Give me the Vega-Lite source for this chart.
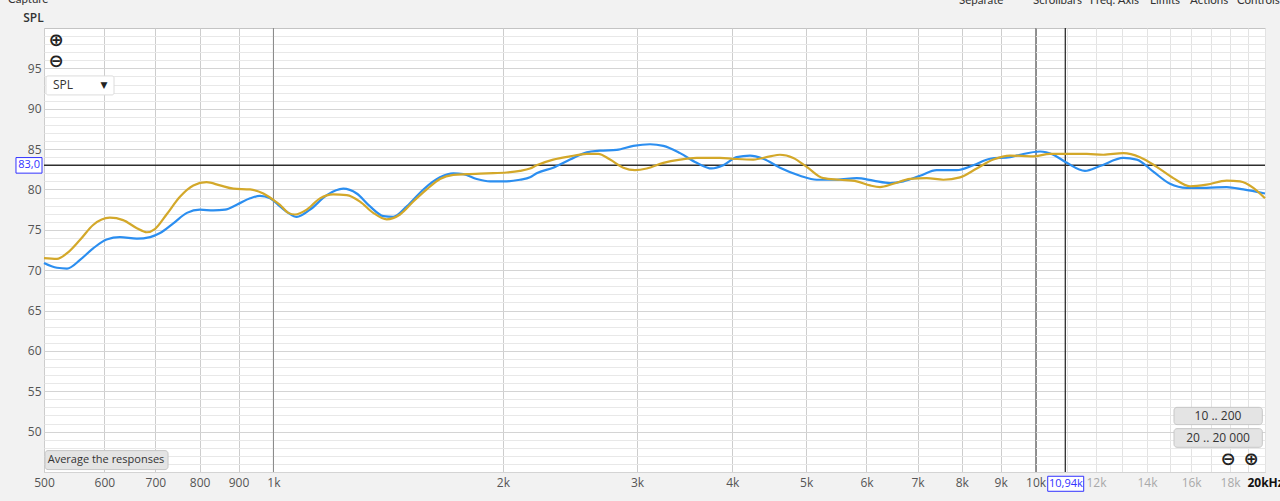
{
  "$schema": "https://vega.github.io/schema/vega-lite/v6.json",
  "width": 1221,
  "height": 444,
  "autosize": {"type": "none"},
  "padding": {"left": 44, "top": 28, "right": 15, "bottom": 29},
  "background": "#f2f2f2",
  "view": {"fill": "#ffffff", "stroke": "#c4c4c4"},
  "config": {"font": "Open Sans", "text": {"font": "Open Sans"}},
  "data": {"values": [{}]},
  "datasets": {
    "curves": [
      {"f": 500, "spl": 70.9, "series": "M1"}, {"f": 520, "spl": 70.3, "series": "M1"}, {"f": 536, "spl": 70.2, "series": "M1"},
      {"f": 558, "spl": 71.3, "series": "M1"}, {"f": 580, "spl": 72.7, "series": "M1"}, {"f": 604, "spl": 73.8, "series": "M1"},
      {"f": 629, "spl": 74.1, "series": "M1"}, {"f": 662, "spl": 73.9, "series": "M1"}, {"f": 689, "spl": 74.1, "series": "M1"},
      {"f": 710, "spl": 74.6, "series": "M1"}, {"f": 739, "spl": 75.8, "series": "M1"}, {"f": 770, "spl": 77.1, "series": "M1"},
      {"f": 801, "spl": 77.5, "series": "M1"}, {"f": 834, "spl": 77.4, "series": "M1"}, {"f": 864, "spl": 77.5, "series": "M1"},
      {"f": 895, "spl": 78.1, "series": "M1"}, {"f": 932, "spl": 78.9, "series": "M1"}, {"f": 960, "spl": 79.2, "series": "M1"},
      {"f": 990, "spl": 78.9, "series": "M1"}, {"f": 1020, "spl": 77.9, "series": "M1"}, {"f": 1046, "spl": 77.1, "series": "M1"},
      {"f": 1073, "spl": 76.6, "series": "M1"}, {"f": 1117, "spl": 77.5, "series": "M1"}, {"f": 1175, "spl": 79.3, "series": "M1"},
      {"f": 1235, "spl": 80.1, "series": "M1"}, {"f": 1286, "spl": 79.5, "series": "M1"}, {"f": 1339, "spl": 77.9, "series": "M1"},
      {"f": 1394, "spl": 76.7, "series": "M1"}, {"f": 1436, "spl": 76.6, "series": "M1"}, {"f": 1496, "spl": 77.9, "series": "M1"},
      {"f": 1573, "spl": 80.0, "series": "M1"}, {"f": 1654, "spl": 81.5, "series": "M1"}, {"f": 1722, "spl": 82.0, "series": "M1"},
      {"f": 1775, "spl": 81.9, "series": "M1"}, {"f": 1848, "spl": 81.3, "series": "M1"}, {"f": 1924, "spl": 81.0, "series": "M1"},
      {"f": 2023, "spl": 81.0, "series": "M1"}, {"f": 2106, "spl": 81.2, "series": "M1"}, {"f": 2171, "spl": 81.5, "series": "M1"},
      {"f": 2215, "spl": 82.0, "series": "M1"}, {"f": 2329, "spl": 82.7, "series": "M1"}, {"f": 2450, "spl": 83.7, "series": "M1"},
      {"f": 2577, "spl": 84.6, "series": "M1"}, {"f": 2682, "spl": 84.8, "series": "M1"}, {"f": 2821, "spl": 84.9, "series": "M1"},
      {"f": 2966, "spl": 85.4, "series": "M1"}, {"f": 3120, "spl": 85.6, "series": "M1"}, {"f": 3248, "spl": 85.4, "series": "M1"},
      {"f": 3416, "spl": 84.5, "series": "M1"}, {"f": 3592, "spl": 83.3, "series": "M1"}, {"f": 3759, "spl": 82.6, "series": "M1"},
      {"f": 3893, "spl": 83.0, "series": "M1"}, {"f": 4054, "spl": 84.0, "series": "M1"}, {"f": 4220, "spl": 84.2, "series": "M1"},
      {"f": 4393, "spl": 83.8, "series": "M1"}, {"f": 4620, "spl": 82.7, "series": "M1"}, {"f": 4908, "spl": 81.7, "series": "M1"},
      {"f": 5162, "spl": 81.2, "series": "M1"}, {"f": 5484, "spl": 81.2, "series": "M1"}, {"f": 5825, "spl": 81.4, "series": "M1"},
      {"f": 6125, "spl": 81.1, "series": "M1"}, {"f": 6442, "spl": 80.8, "series": "M1"}, {"f": 6706, "spl": 81.0, "series": "M1"},
      {"f": 7053, "spl": 81.7, "series": "M1"}, {"f": 7418, "spl": 82.4, "series": "M1"}, {"f": 7880, "spl": 82.4, "series": "M1"},
      {"f": 8285, "spl": 83.0, "series": "M1"}, {"f": 8714, "spl": 83.8, "series": "M1"}, {"f": 9257, "spl": 84.0, "series": "M1"},
      {"f": 9541, "spl": 84.3, "series": "M1"}, {"f": 10135, "spl": 84.7, "series": "M1"}, {"f": 10551, "spl": 84.3, "series": "M1"},
      {"f": 10987, "spl": 83.3, "series": "M1"}, {"f": 11611, "spl": 82.3, "series": "M1"}, {"f": 12150, "spl": 82.9, "series": "M1"},
      {"f": 13036, "spl": 83.9, "series": "M1"}, {"f": 13574, "spl": 83.7, "series": "M1"}, {"f": 14272, "spl": 82.2, "series": "M1"},
      {"f": 15010, "spl": 80.7, "series": "M1"}, {"f": 15787, "spl": 80.2, "series": "M1"}, {"f": 16771, "spl": 80.2, "series": "M1"},
      {"f": 17815, "spl": 80.3, "series": "M1"}, {"f": 18731, "spl": 80.0, "series": "M1"}, {"f": 20000, "spl": 79.5, "series": "M1"},
      {"f": 500, "spl": 71.5, "series": "M2"}, {"f": 520, "spl": 71.4, "series": "M2"}, {"f": 536, "spl": 72.1, "series": "M2"},
      {"f": 558, "spl": 73.8, "series": "M2"}, {"f": 580, "spl": 75.6, "series": "M2"}, {"f": 610, "spl": 76.5, "series": "M2"},
      {"f": 635, "spl": 76.2, "series": "M2"}, {"f": 662, "spl": 75.2, "series": "M2"}, {"f": 682, "spl": 74.7, "series": "M2"},
      {"f": 699, "spl": 75.1, "series": "M2"}, {"f": 724, "spl": 76.9, "series": "M2"}, {"f": 754, "spl": 79.1, "series": "M2"},
      {"f": 785, "spl": 80.5, "series": "M2"}, {"f": 817, "spl": 80.9, "series": "M2"}, {"f": 851, "spl": 80.5, "series": "M2"},
      {"f": 886, "spl": 80.1, "series": "M2"}, {"f": 932, "spl": 80.0, "series": "M2"}, {"f": 970, "spl": 79.5, "series": "M2"},
      {"f": 1000, "spl": 78.7, "series": "M2"}, {"f": 1020, "spl": 78.1, "series": "M2"}, {"f": 1046, "spl": 77.1, "series": "M2"},
      {"f": 1067, "spl": 76.9, "series": "M2"}, {"f": 1106, "spl": 77.5, "series": "M2"}, {"f": 1151, "spl": 78.9, "series": "M2"},
      {"f": 1198, "spl": 79.4, "series": "M2"}, {"f": 1248, "spl": 79.3, "series": "M2"}, {"f": 1299, "spl": 78.5, "series": "M2"},
      {"f": 1352, "spl": 77.1, "series": "M2"}, {"f": 1408, "spl": 76.3, "series": "M2"}, {"f": 1466, "spl": 76.9, "series": "M2"},
      {"f": 1526, "spl": 78.5, "series": "M2"}, {"f": 1589, "spl": 80.0, "series": "M2"}, {"f": 1654, "spl": 81.3, "series": "M2"},
      {"f": 1722, "spl": 81.8, "series": "M2"}, {"f": 1793, "spl": 81.9, "series": "M2"}, {"f": 1905, "spl": 82.0, "series": "M2"},
      {"f": 2023, "spl": 82.1, "series": "M2"}, {"f": 2106, "spl": 82.3, "series": "M2"}, {"f": 2171, "spl": 82.6, "series": "M2"},
      {"f": 2215, "spl": 83.0, "series": "M2"}, {"f": 2329, "spl": 83.7, "series": "M2"}, {"f": 2450, "spl": 84.1, "series": "M2"},
      {"f": 2577, "spl": 84.4, "series": "M2"}, {"f": 2668, "spl": 84.4, "series": "M2"}, {"f": 2765, "spl": 83.7, "series": "M2"},
      {"f": 2878, "spl": 82.7, "series": "M2"}, {"f": 2981, "spl": 82.4, "series": "M2"}, {"f": 3089, "spl": 82.6, "series": "M2"},
      {"f": 3248, "spl": 83.3, "series": "M2"}, {"f": 3416, "spl": 83.7, "series": "M2"}, {"f": 3592, "spl": 83.9, "series": "M2"},
      {"f": 3854, "spl": 83.9, "series": "M2"}, {"f": 4012, "spl": 83.8, "series": "M2"}, {"f": 4262, "spl": 83.7, "series": "M2"},
      {"f": 4483, "spl": 84.1, "series": "M2"}, {"f": 4620, "spl": 84.3, "series": "M2"}, {"f": 4810, "spl": 83.9, "series": "M2"},
      {"f": 5009, "spl": 82.8, "series": "M2"}, {"f": 5266, "spl": 81.4, "series": "M2"}, {"f": 5539, "spl": 81.2, "series": "M2"},
      {"f": 5825, "spl": 81.0, "series": "M2"}, {"f": 6064, "spl": 80.5, "series": "M2"}, {"f": 6250, "spl": 80.3, "series": "M2"},
      {"f": 6507, "spl": 80.7, "series": "M2"}, {"f": 6843, "spl": 81.3, "series": "M2"}, {"f": 7197, "spl": 81.4, "series": "M2"},
      {"f": 7568, "spl": 81.2, "series": "M2"}, {"f": 7959, "spl": 81.5, "series": "M2"}, {"f": 8371, "spl": 82.6, "series": "M2"},
      {"f": 8801, "spl": 83.7, "series": "M2"}, {"f": 9257, "spl": 84.2, "series": "M2"}, {"f": 9932, "spl": 84.1, "series": "M2"},
      {"f": 10446, "spl": 84.4, "series": "M2"}, {"f": 10987, "spl": 84.4, "series": "M2"}, {"f": 11671, "spl": 84.4, "series": "M2"},
      {"f": 12271, "spl": 84.3, "series": "M2"}, {"f": 13036, "spl": 84.5, "series": "M2"}, {"f": 13710, "spl": 84.0, "series": "M2"},
      {"f": 14419, "spl": 82.8, "series": "M2"}, {"f": 15161, "spl": 81.4, "series": "M2"}, {"f": 15946, "spl": 80.4, "series": "M2"},
      {"f": 16771, "spl": 80.6, "series": "M2"}, {"f": 17815, "spl": 81.1, "series": "M2"}, {"f": 18545, "spl": 81.0, "series": "M2"},
      {"f": 19306, "spl": 80.2, "series": "M2"}, {"f": 20000, "spl": 78.9, "series": "M2"}
    ]
  },
  "layer": [
    {
      "data": {"name": "curves"},
      "mark": {"type": "line", "interpolate": "monotone", "strokeWidth": 0, "opacity": 0},
      "encoding": {
        "x": {
          "field": "f", "type": "quantitative",
          "scale": {"type": "log", "domain": [500, 20000], "nice": false},
          "axis": {
            "title": null, "domain": false, "ticks": false, "tickCount": 500,
            "values": [500, 600, 700, 800, 900, 1000, 2000, 3000, 4000, 5000, 6000, 7000, 8000, 9000, 10000, 11000, 12000, 13000, 14000, 15000, 16000, 17000, 18000, 19000, 20000],
            "labelExpr": "datum.value == 20000 ? '20kHz' : (datum.value == 11000 || datum.value == 13000 || datum.value == 15000 || datum.value == 17000 || datum.value == 19000) ? '' : datum.value >= 1000 ? (datum.value / 1000) + 'k' : datum.value + ''",
            "labelOverlap": false, "labelBound": false, "labelFlush": false,
            "labelPadding": 5, "labelFontSize": 12, "labelFont": "Open Sans",
            "labelColor": {"condition": [{"test": "datum.value == 20000", "value": "#111111"}, {"test": "datum.value > 10000", "value": "#a9a9a9"}], "value": "#555555"},
            "labelFontWeight": {"condition": {"test": "datum.value == 20000", "value": "bold"}, "value": "normal"},
            "grid": true,
            "gridColor": {"condition": [{"test": "datum.value == 1000 || datum.value == 10000", "value": "#8c8c8c"}, {"test": "datum.value > 10000", "value": "#e3e3e3"}], "value": "#cdcdcd"},
            "gridWidth": 1
          }
        },
        "y": {
          "field": "spl", "type": "quantitative",
          "scale": {"domain": [45, 100], "nice": false, "zero": false},
          "axis": {
            "title": "SPL", "titleAngle": 0, "titleX": -11, "titleY": -11, "titleAlign": "center", "titleBaseline": "middle",
            "titleFontSize": 12, "titleFontWeight": 600, "titleColor": "#333333", "titleFont": "Open Sans",
            "domain": false, "ticks": false, "tickCount": 500,
            "values": [45, 46, 47, 48, 49, 50, 51, 52, 53, 54, 55, 56, 57, 58, 59, 60, 61, 62, 63, 64, 65, 66, 67, 68, 69, 70, 71, 72, 73, 74, 75, 76, 77, 78, 79, 80, 81, 82, 83, 84, 85, 86, 87, 88, 89, 90, 91, 92, 93, 94, 95, 96, 97, 98, 99],
            "labelExpr": "(datum.value % 5 == 0 && datum.value >= 50 && datum.value <= 95) ? datum.value + '' : ''",
            "labelOverlap": false, "labelBound": false, "labelFlush": false,
            "labelPadding": 3, "labelFontSize": 12, "labelColor": "#555555", "labelFont": "Open Sans",
            "grid": true,
            "gridColor": {"condition": {"test": "datum.value % 5 == 0", "value": "#d4d4d4"}, "value": "#e8e8e8"}
          }
        },
        "detail": {"field": "series", "type": "nominal"}
      }
    },
    {
      "mark": {"type": "rule", "color": "#8c8c8c", "strokeWidth": 1},
      "encoding": {"x": {"datum": 1000, "type": "quantitative"}}
    },
    {
      "mark": {"type": "rule", "color": "#8c8c8c", "strokeWidth": 1},
      "encoding": {"x": {"datum": 10000, "type": "quantitative"}}
    },
    {
      "mark": {"type": "rule", "color": "#2e2e2e", "strokeWidth": 1.3},
      "encoding": {"y": {"datum": 83.0, "type": "quantitative"}}
    },
    {
      "mark": {"type": "rule", "color": "#2e2e2e", "strokeWidth": 1.3},
      "encoding": {"x": {"datum": 10940, "type": "quantitative"}}
    },
    {
      "data": {"name": "curves"},
      "mark": {"type": "line", "interpolate": "monotone", "strokeWidth": 2.2},
      "encoding": {
        "x": {"field": "f", "type": "quantitative"},
        "y": {"field": "spl", "type": "quantitative"},
        "color": {"field": "series", "type": "nominal", "scale": {"domain": ["M1", "M2"], "range": ["#2b8ef0", "#d3a82a"]}, "legend": null}
      }
    },
    {
      "mark": {"type": "rect", "fill": "#ffffff", "stroke": "#3232ff", "strokeWidth": 1},
      "encoding": {
        "x": {"datum": 459.4, "type": "quantitative"}, "x2": {"datum": 497},
        "y": {"datum": 83.95, "type": "quantitative"}, "y2": {"datum": 82.02}
      }
    },
    {
      "mark": {"type": "text", "color": "#3232ff", "fontSize": 11, "font": "Open Sans"},
      "encoding": {"x": {"datum": 478, "type": "quantitative"}, "y": {"datum": 83.0, "type": "quantitative"}, "text": {"value": "83,0"}}
    },
    {
      "mark": {"type": "rect", "fill": "#ffffff", "stroke": "#3232ff", "strokeWidth": 1},
      "encoding": {
        "x": {"datum": 10374, "type": "quantitative"}, "x2": {"datum": 11565},
        "y": {"datum": 44.47, "type": "quantitative"}, "y2": {"datum": 42.61}
      }
    },
    {
      "mark": {"type": "text", "color": "#3232ff", "fontSize": 11, "font": "Open Sans"},
      "encoding": {"x": {"datum": 10960, "type": "quantitative"}, "y": {"datum": 43.54, "type": "quantitative"}, "text": {"value": "10,94k"}}
    },
    {
      "mark": {"type": "rect", "fill": "#e4e4e4", "stroke": "#c6c6c6", "strokeWidth": 1, "cornerRadius": 3},
      "encoding": {
        "x": {"datum": 501.5, "type": "quantitative"}, "x2": {"datum": 727.3},
        "y": {"datum": 47.65, "type": "quantitative"}, "y2": {"datum": 45.3}
      }
    },
    {
      "mark": {"type": "text", "color": "#333333", "fontSize": 11, "font": "Open Sans"},
      "encoding": {"x": {"datum": 603, "type": "quantitative"}, "y": {"datum": 46.45, "type": "quantitative"}, "text": {"value": "Average the responses"}}
    },
    {
      "mark": {"type": "rect", "fill": "#e4e4e4", "stroke": "#c6c6c6", "strokeWidth": 1, "cornerRadius": 3},
      "encoding": {
        "x": {"datum": 15193, "type": "quantitative"}, "x2": {"datum": 19838},
        "y": {"datum": 53.01, "type": "quantitative"}, "y2": {"datum": 50.87}
      }
    },
    {
      "mark": {"type": "text", "color": "#333333", "fontSize": 12, "font": "Open Sans"},
      "encoding": {"x": {"datum": 17353, "type": "quantitative"}, "y": {"datum": 51.92, "type": "quantitative"}, "text": {"value": "10 .. 200"}}
    },
    {
      "mark": {"type": "rect", "fill": "#e4e4e4", "stroke": "#c6c6c6", "strokeWidth": 1, "cornerRadius": 3},
      "encoding": {
        "x": {"datum": 15193, "type": "quantitative"}, "x2": {"datum": 19838},
        "y": {"datum": 50.37, "type": "quantitative"}, "y2": {"datum": 48.06}
      }
    },
    {
      "mark": {"type": "text", "color": "#333333", "fontSize": 12, "font": "Open Sans"},
      "encoding": {"x": {"datum": 17353, "type": "quantitative"}, "y": {"datum": 49.2, "type": "quantitative"}, "text": {"value": "20 .. 20 000"}}
    },
    {
      "mark": {"type": "text", "color": "#222222", "fontSize": 18, "fontWeight": "bold", "font": "DejaVu Sans"},
      "encoding": {"x": {"datum": 17886, "type": "quantitative"}, "y": {"datum": 46.53, "type": "quantitative"}, "text": {"value": "⊖"}}
    },
    {
      "mark": {"type": "text", "color": "#222222", "fontSize": 18, "fontWeight": "bold", "font": "DejaVu Sans"},
      "encoding": {"x": {"datum": 19172, "type": "quantitative"}, "y": {"datum": 46.53, "type": "quantitative"}, "text": {"value": "⊕"}}
    },
    {
      "mark": {"type": "text", "color": "#222222", "fontSize": 18, "fontWeight": "bold", "font": "DejaVu Sans"},
      "encoding": {"x": {"datum": 518.5, "type": "quantitative"}, "y": {"datum": 98.39, "type": "quantitative"}, "text": {"value": "⊕"}}
    },
    {
      "mark": {"type": "text", "color": "#222222", "fontSize": 18, "fontWeight": "bold", "font": "DejaVu Sans"},
      "encoding": {"x": {"datum": 518.5, "type": "quantitative"}, "y": {"datum": 95.79, "type": "quantitative"}, "text": {"value": "⊖"}}
    },
    {
      "mark": {"type": "rect", "fill": "#ffffff", "stroke": "#dcdcdc", "strokeWidth": 1, "cornerRadius": 2},
      "encoding": {
        "x": {"datum": 503, "type": "quantitative"}, "x2": {"datum": 617.8},
        "y": {"datum": 94.06, "type": "quantitative"}, "y2": {"datum": 91.71}
      }
    },
    {
      "mark": {"type": "text", "color": "#333333", "fontSize": 12, "font": "Open Sans", "align": "left"},
      "encoding": {"x": {"datum": 513.8, "type": "quantitative"}, "y": {"datum": 92.88, "type": "quantitative"}, "text": {"value": "SPL"}}
    },
    {
      "mark": {"type": "text", "color": "#222222", "fontSize": 9, "font": "DejaVu Sans"},
      "encoding": {"x": {"datum": 599.4, "type": "quantitative"}, "y": {"datum": 92.88, "type": "quantitative"}, "text": {"value": "▼"}}
    },
    {
      "mark": {"type": "text", "color": "#333333", "fontSize": 11.5, "font": "Lato", "align": "left", "baseline": "alphabetic"},
      "encoding": {"x": {"datum": 448.5, "type": "quantitative"}, "y": {"datum": 103.09, "type": "quantitative"}, "text": {"value": "Capture"}}
    },
    {
      "mark": {"type": "text", "color": "#333333", "fontSize": 11.5, "font": "Lato", "align": "left", "baseline": "alphabetic"},
      "encoding": {"x": {"datum": 7935, "type": "quantitative"}, "y": {"datum": 102.97, "type": "quantitative"}, "text": {"value": "Separate"}}
    },
    {
      "mark": {"type": "text", "color": "#333333", "fontSize": 11.5, "font": "Lato", "align": "left", "baseline": "alphabetic"},
      "encoding": {"x": {"datum": 9923, "type": "quantitative"}, "y": {"datum": 102.97, "type": "quantitative"}, "text": {"value": "Scrollbars"}}
    },
    {
      "mark": {"type": "text", "color": "#333333", "fontSize": 11.5, "font": "Lato", "align": "left", "baseline": "alphabetic"},
      "encoding": {"x": {"datum": 11788, "type": "quantitative"}, "y": {"datum": 102.97, "type": "quantitative"}, "text": {"value": "Freq. Axis"}}
    },
    {
      "mark": {"type": "text", "color": "#333333", "fontSize": 11.5, "font": "Lato", "align": "left", "baseline": "alphabetic"},
      "encoding": {"x": {"datum": 14130, "type": "quantitative"}, "y": {"datum": 102.97, "type": "quantitative"}, "text": {"value": "Limits"}}
    },
    {
      "mark": {"type": "text", "color": "#333333", "fontSize": 11.5, "font": "Lato", "align": "left", "baseline": "alphabetic"},
      "encoding": {"x": {"datum": 15946, "type": "quantitative"}, "y": {"datum": 102.97, "type": "quantitative"}, "text": {"value": "Actions"}}
    },
    {
      "mark": {"type": "text", "color": "#333333", "fontSize": 11.5, "font": "Lato", "align": "left", "baseline": "alphabetic"},
      "encoding": {"x": {"datum": 18378, "type": "quantitative"}, "y": {"datum": 102.97, "type": "quantitative"}, "text": {"value": "Controls"}}
    }
  ]
}
